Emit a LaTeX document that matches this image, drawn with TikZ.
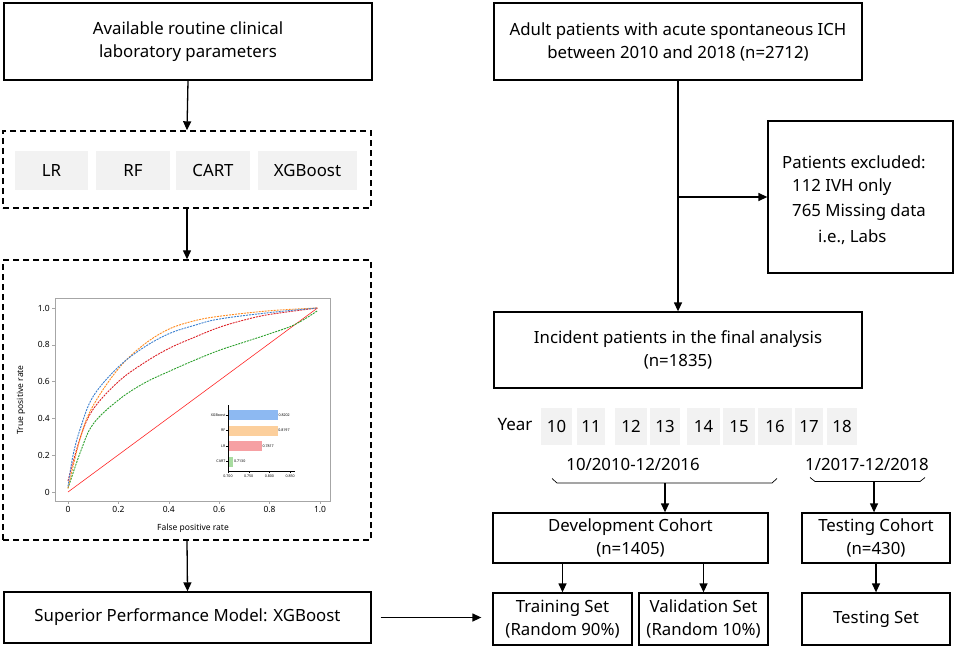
\documentclass[tikz,border=0pt]{standalone}
\usepackage{fontspec}
\setmainfont{Noto Sans}
\usetikzlibrary{arrows.meta}
\definecolor{greybox}{HTML}{F2F2F2}
\definecolor{cblue}{HTML}{3A7FCF}
\definecolor{corange}{HTML}{FF8A1E}
\definecolor{cred}{HTML}{DC2228}
\definecolor{cgreen}{HTML}{2CA02C}
\definecolor{bblue}{HTML}{8DB9F2}
\definecolor{borange}{HTML}{FCCF9C}
\definecolor{bred}{HTML}{F6A0A3}
\definecolor{bgreen}{HTML}{A8DCA0}
\begin{document}
\begin{tikzpicture}[x=1pt,y=-1pt,
  txt/.style={font=\fontsize{16.8}{23}\selectfont},
  box/.style={draw,line width=1.3pt,inner sep=0pt,align=center,txt},
  dbox/.style={draw,line width=1.4pt,dash pattern=on 6pt off 4pt,inner sep=0pt},
  gbox/.style={fill=greybox,inner sep=0pt,txt},
  arr/.style={line width=1.3pt,-{Triangle[length=9pt,width=8pt]}},
  roc/.style={line width=0.9pt,dash pattern=on 2pt off 1pt},
  tick/.style={font=\fontsize{8.5}{10}\selectfont},
  tiny/.style={font=\fontsize{3.6}{4}\selectfont,inner sep=0.5pt}]
\useasboundingbox (0,0) rectangle (957,650);
% left column
\node[box,minimum width=368pt,minimum height=77pt] (A) at (188,41.5) {Available routine clinical\\laboratory parameters};
\node[dbox,minimum width=368pt,minimum height=77pt] (D1) at (187,169.5) {};
\node[gbox,minimum width=73pt,minimum height=39pt] (lr) at (51.5,170.5) {LR};
\node[gbox,minimum width=74pt,minimum height=39pt] (rf) at (133,170.5) {RF};
\node[gbox,minimum width=74pt,minimum height=39pt] (cart) at (213,170.5) {CART};
\node[gbox,minimum width=99pt,minimum height=39pt] (xgb) at (307.5,170.5) {XGBoost};
\node[dbox,minimum width=368pt,minimum height=280pt] (D2) at (187,400) {};
\node[box,minimum width=367pt,minimum height=51pt] (spm) at (187.5,617.5) {Superior Performance Model: XGBoost};
\draw[arr] (A.south) -- (D1.north);
\draw[arr] (D1.south) -- (D2.north);
\draw[arr] (D2.south) -- (spm.north);
% ROC plot
\draw[gray!70,line width=0.6pt] (55,298) rectangle (330,501);
\foreach \v/\l in {0/0,0.2/0.2,0.4/0.4,0.6/0.6,0.8/0.8,1/1.0}{
  \draw[gray!70,line width=0.5pt] (52,492-184*\v) -- (55,492-184*\v);
  \node[tick,anchor=east,inner sep=1pt] (yt\l) at (51,492-184*\v) {\l};
  \draw[gray!70,line width=0.5pt] (68+252*\v,501) -- (68+252*\v,504);
  \node[tick,anchor=north,inner sep=1pt] (xt\l) at (68+252*\v,505) {\l};
}
\node[tick,rotate=90] (ylab) at (21,400) {True positive rate};
\node[tick] (xlab) at (193,528) {False positive rate};
\begin{scope}[shift={(68,492)},xscale=252,yscale=-184]
\draw[red!85,line width=0.6pt] (0,0) -- (0.99,1.0);
\draw[roc,cgreen] plot[smooth,tension=0.6] coordinates {(0,0.02) (0.05,0.22) (0.1,0.37) (0.2,0.5) (0.3,0.59) (0.4,0.655) (0.5,0.715) (0.6,0.77) (0.7,0.815) (0.8,0.86) (0.9,0.91) (0.99,0.985)};
\draw[roc,cred] plot[smooth,tension=0.6] coordinates {(0,0.06) (0.05,0.3) (0.1,0.45) (0.2,0.6) (0.3,0.7) (0.4,0.78) (0.5,0.84) (0.6,0.895) (0.7,0.935) (0.8,0.965) (0.99,1.0)};
\draw[roc,corange] plot[smooth,tension=0.6] coordinates {(0,0.02) (0.05,0.3) (0.1,0.47) (0.2,0.67) (0.3,0.8) (0.4,0.885) (0.5,0.93) (0.6,0.955) (0.8,0.985) (0.99,1.0)};
\draw[roc,cblue] plot[smooth,tension=0.6] coordinates {(0,0.03) (0.02,0.2) (0.05,0.35) (0.1,0.52) (0.2,0.68) (0.3,0.785) (0.4,0.86) (0.5,0.905) (0.6,0.94) (0.8,0.975) (0.99,1.0)};
\end{scope}
% inset bar chart
\fill[bblue] (228,410) rectangle (277.8,420);
\fill[borange] (228,425.5) rectangle (277.6,435.5);
\fill[bred] (228,441) rectangle (261.8,451);
\fill[bgreen] (228,456.5) rectangle (233.4,466.5);
\draw[line width=0.5pt] (228,405) -- (228,471) -- (295,471);
\foreach \y/\n/\val/\e in {415/XGBoost/0.8202/277.8,430.5/RF/0.8197/277.6,446/LR/0.7817/261.8,461.5/CART/0.7130/233.4}{
  \draw[line width=0.4pt] (226,\y) -- (228,\y);
  \node[tiny,anchor=east] (bl\n) at (226,\y) {\n};
  \node[tiny,anchor=west] (bv\n) at (\e,\y) {\val};
}
\foreach \x/\l in {228/0.700,248.7/0.750,269.4/0.800,290.1/0.850}{
  \draw[line width=0.4pt] (\x,471) -- (\x,473);
  \node[tiny,anchor=north] (bt\l) at (\x,474) {\l};
}
% right column
\node[box,minimum width=368pt,minimum height=77pt] (B) at (678,41.5) {Adult patients with acute spontaneous ICH\\between 2010 and 2018 (n=2712)};
\node[box,minimum width=185pt,minimum height=152pt] (ex) at (860.5,197) {};
\node[txt,anchor=west,inner sep=0pt] (ex1) at (782,162) {Patients excluded:};
\node[txt,anchor=west,inner sep=0pt] (ex2) at (792,187) {112 IVH only};
\node[txt,anchor=west,inner sep=0pt] (ex3) at (792,212) {765 Missing data};
\node[txt,anchor=west,inner sep=0pt] (ex4) at (818,237) {i.e., Labs};
\node[box,minimum width=368pt,minimum height=76pt] (fin) at (678,350) {Incident patients in the final analysis\\(n=1835)};
\draw[arr] (B.south) -- (fin.north);
\coordinate (br) at (B.south |- ex.west);
\draw[arr] (br) -- (ex.west);
% years
\node[font=\fontsize{17}{18}\selectfont\bfseries] (year) at (515,425) {Year};
\foreach \c/\w/\l in {556.5/31/10,591/28/11,631/32/12,665/30/13,703.5/33/14,739/32/15,775/34/16,809/28/17,842/30/18}{
  \node[gbox,minimum width=\w pt,minimum height=37pt] (y\l) at (\c,426.5) {\l};
}
\node[txt] (p1) at (633,464) {10/2010-12/2016};
\node[txt] (p2) at (867,464) {1/2017-12/2018};
\draw[line width=0.7pt] (552,478.5) -- (557,483) -- (772,483) -- (777,478.5);
\draw[line width=0.7pt] (810,477.5) -- (815,481.5) -- (920,481.5) -- (925,477.5);
\coordinate (b1) at (665,483);
\coordinate (b2) at (874,481.5);
\node[box,minimum width=275pt,minimum height=50pt] (dev) at (630.5,538) {Development Cohort\\(n=1405)};
\node[box,minimum width=148pt,minimum height=50pt] (tc) at (876,538) {Testing Cohort\\(n=430)};
\draw[arr] (b1) -- (b1 |- dev.north);
\draw[arr] (b2) -- (b2 |- tc.north);
\node[box,minimum width=139pt,minimum height=52pt] (tr) at (562.5,619) {Training Set\\(Random 90\%)};
\node[box,minimum width=129pt,minimum height=52pt] (va) at (703.5,619) {Validation Set\\(Random 10\%)};
\node[box,minimum width=148pt,minimum height=52pt] (ts) at (876,619) {Testing Set};
\draw[arr] (tr.north |- dev.south) -- (tr.north);
\draw[arr] (va.north |- dev.south) -- (va.north);
\draw[arr] (tc.south) -- (ts.north);
\draw[arr,shorten <=9pt,shorten >=11pt] (spm.east) -- (spm.east -| tr.west);
\end{tikzpicture}
\end{document}
